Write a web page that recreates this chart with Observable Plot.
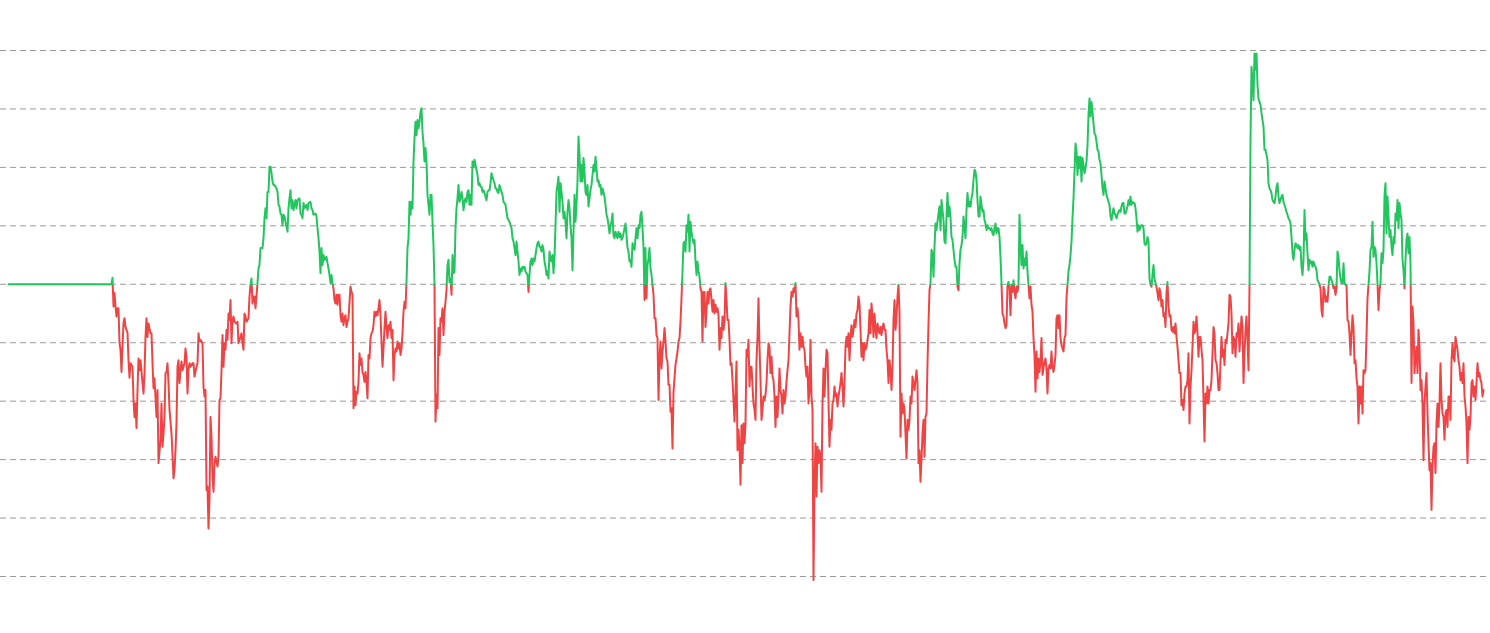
<!DOCTYPE html>
<html><head><meta charset="utf-8">
<script src="https://cdn.jsdelivr.net/npm/d3@7"></script>
<script src="https://cdn.jsdelivr.net/npm/@observablehq/plot@0.6"></script>
<style>html,body{margin:0;padding:0;background:#fff;overflow:hidden}#chart svg{display:block}</style>
</head><body><div id="chart"></div>
<script>
// Gridline values (labels are not shown in the reference)
const gridValues = [40, 30, 20, 10, 0, -10, -20, -30, -40, -50];
const baseline = 0;

// [day, value] readings
const flatStart = [[0,0],[103,0]];
const partA = [[104,1.1],[105,-3.8],[106,-1.5],[107,-3.8],[108,-5.5],[109,-4.1],[110,-4.1],[111,-10.0],[112,-11.2],[113,-15.0],[114,-10.7],[115,-6.6],[116,-5.8],[117,-7.3],[119,-8.3],[120,-13.0],[121,-16.0],[122,-13.5],[124,-14.1],[125,-19.8],[126,-22.7],[127,-20.4],[128,-24.6],[129,-18.1],[130,-12.7],[131,-14.7],[132,-13.0],[134,-16.9],[135,-18.7],[136,-15.2],[137,-9.0],[138,-5.8],[139,-9.0],[140,-6.7],[142,-8.4],[143,-8.4],[144,-13.5],[145,-17.8],[146,-16.1],[148,-22.7],[149,-18.1],[150,-30.6],[152,-26.6],[153,-20.4],[154,-27.8],[155,-25.5],[156,-22.7],[157,-15.2],[158,-15.0],[159,-13.5],[160,-16.9],[161,-21.5],[163,-25.5],[164,-29.2],[165,-33.2],[166,-31.8],[167,-28.4],[168,-23.8],[169,-14.1],[170,-13.0],[171,-16.9],[172,-14.7],[173,-13.2],[174,-14.7],[176,-13.5],[177,-11.0],[178,-12.4],[179,-18.7],[180,-14.7],[181,-13.5],[182,-14.1],[184,-13.5],[185,-13.5],[186,-15.8],[188,-14.1],[189,-13.5],[190,-8.4],[191,-9.8],[192,-9.5],[194,-10.1],[195,-17.5],[196,-19.2],[197,-18.1],[198,-35.2],[199,-34.6],[200,-41.8],[201,-36.9],[202,-22.7],[203,-26.1],[204,-32.9],[205,-35.5],[206,-30.6],[207,-29.5],[209,-31.2],[210,-29.5],[211,-19.8],[212,-19.5],[213,-14.7],[214,-8.7],[215,-14.1],[216,-10.1],[217,-11.2],[218,-7.8],[219,-9.5],[220,-5.0],[221,-6.1],[222,-2.7],[223,-10.1],[224,-6.1],[225,-5.5],[226,-6.4],[228,-6.7],[229,-6.4],[230,-10.1],[232,-9.0],[233,-8.4],[234,-10.1],[235,-11.2],[236,-5.0],[237,-5.5],[238,-6.4],[240,-5.8],[241,-2.1],[242,-0.1],[243,1.0],[244,-3.3],[245,-2.1],[246,-2.1]];
const partB = [[247,-4.1],[249,0.2],[250,2.7],[251,3.3],[252,6.2],[254,6.2],[255,7.9],[256,11.3],[257,13.0],[258,11.3],[259,15.8],[260,15.8],[261,20.1],[262,20.1],[263,19.0],[264,17.6],[265,17.0],[266,17.0],[268,16.4],[269,15.8],[270,13.6],[271,13.3],[272,12.1],[273,11.9],[274,10.1],[275,11.9],[276,11.6],[277,10.7],[278,9.9],[279,9.0],[280,13.0],[281,14.7],[282,16.1],[283,13.0],[284,14.4],[285,12.7],[286,13.6],[287,14.4],[288,13.0],[289,14.4],[291,14.7],[292,12.1],[293,11.9],[294,11.3],[295,13.9],[296,13.0],[298,13.6],[299,12.7],[300,13.9],[302,14.1],[303,13.0],[304,12.7],[305,11.9],[307,12.1],[308,11.6],[309,9.6],[310,7.9],[311,5.6],[312,1.9],[313,6.2],[314,3.3],[315,5.0],[316,4.2],[317,4.4],[318,4.7],[319,3.6],[320,2.7],[321,1.6],[322,0.2],[323,1.6],[324,0.2],[325,-0.7],[326,-2.7],[327,-3.3],[328,-1.8],[329,-3.5],[330,-1.8],[331,-1.8],[332,-5.3],[333,-6.4],[334,-5.0],[335,-7.0],[336,-5.8],[337,-5.3],[338,-7.3],[339,-6.4],[340,-5.8],[342,-0.4],[343,-1.3],[344,-1.8],[345,-21.2],[346,-17.5],[347,-20.7],[348,-18.4],[349,-18.7],[350,-16.7],[351,-11.8],[352,-13.8],[353,-12.7],[354,-15.0],[355,-15.5],[356,-16.7],[357,-15.0],[358,-16.7],[359,-19.5],[360,-12.1],[361,-12.7],[362,-9.2],[363,-8.4],[364,-8.1],[365,-7.0],[366,-4.7],[367,-5.5],[368,-4.7],[369,-5.3],[370,-4.1],[371,-2.7],[372,-5.3],[373,-9.8],[374,-14.1],[375,-11.0],[376,-7.5],[377,-4.7],[378,-7.5],[379,-9.2],[380,-7.0],[381,-7.8],[382,-6.4],[383,-9.2],[384,-7.8],[385,-16.4],[386,-12.1],[387,-11.0],[388,-11.5],[389,-9.8],[390,-11.0],[391,-10.1],[392,-12.1],[393,-11.0],[394,-8.4],[395,-4.7],[396,-3.0]];
const partC = [[397,-4.1],[398,0.4],[399,6.2],[400,7.9],[401,14.1],[402,11.9],[403,14.1],[404,13.0],[405,21.0],[406,25.0],[407,27.8],[408,25.5],[409,28.1],[410,26.7],[411,27.8],[412,29.5],[413,30.1],[414,26.1],[415,24.1],[416,21.0],[417,23.3],[418,21.0],[419,15.3],[420,13.6],[421,11.9],[422,15.3],[423,15.3],[424,10.7],[425,6.7],[426,-0.1],[427,-23.5],[428,-18.9],[429,-21.2],[430,-7.5],[431,-12.1],[432,-5.8],[433,-6.4],[434,-4.1],[435,-8.7],[436,-4.7],[437,-3.0],[438,-1.0],[439,3.3],[440,4.2],[441,0.4],[442,1.0],[443,-1.8],[444,5.0],[445,1.9],[446,2.2],[447,9.6],[448,13.0],[449,14.7],[450,17.0],[451,14.1],[452,14.7],[453,15.8],[454,14.7],[455,12.7],[456,14.1],[457,14.7],[458,14.1],[459,15.8],[460,16.1],[461,13.6],[462,15.3],[463,13.6],[464,21.0],[465,20.1],[466,21.3],[467,20.4],[468,19.6],[469,18.7],[470,17.0],[471,17.3],[472,16.7],[473,16.7],[474,15.8],[475,16.1],[476,15.6],[477,15.0],[478,14.4],[479,15.8],[480,16.1],[481,16.1],[482,17.3],[483,19.0],[484,18.4],[485,17.8],[486,17.3],[487,16.4],[488,16.4],[489,15.8],[490,15.6],[491,17.0],[492,16.4],[493,15.8],[494,15.3],[495,14.1],[496,13.9],[497,13.6],[498,12.4],[499,11.3],[500,11.0],[501,10.7],[502,10.1],[503,9.6],[504,7.9],[505,7.3],[506,6.2],[507,5.0],[508,7.3],[509,5.6],[510,3.9],[511,1.6],[512,2.7],[513,2.2],[514,3.0],[515,2.7],[516,3.0],[517,2.2],[518,1.9],[519,1.6],[520,-1.3],[521,1.6],[522,3.9],[523,4.4],[524,3.3],[525,4.4],[526,3.9],[527,5.0],[528,6.2],[529,7.0],[530,7.3],[531,6.4],[532,6.4],[533,5.6],[534,6.7],[535,5.9],[536,3.9],[537,3.0],[538,1.6],[539,2.2],[540,1.0],[541,5.6],[542,4.4],[543,3.9],[544,5.0],[545,1.9],[546,4.4]];
const partD = [[548,15.8],[549,17.0],[550,18.4],[551,12.4],[552,17.3],[553,15.8],[554,14.1],[555,11.3],[556,12.4],[557,10.7],[558,7.9],[559,12.4],[560,14.4],[561,13.0],[562,10.1],[563,7.9],[564,2.4],[565,9.0],[566,15.3],[567,10.7],[568,13.6],[569,17.6],[570,25.3],[571,22.1],[572,17.6],[573,20.4],[574,17.6],[575,21.6],[576,19.3],[577,15.8],[578,15.3],[579,17.0],[580,13.3],[581,14.7],[582,16.1],[583,17.0],[584,18.7],[585,20.4],[586,19.3],[587,21.8],[588,19.9],[589,17.6],[590,17.8],[591,16.7],[592,17.0],[593,15.3],[594,16.4],[595,15.8],[596,15.0],[597,13.6],[598,11.9],[599,11.3],[600,10.1],[601,8.7],[602,10.1],[603,10.7],[604,12.1],[605,8.4],[606,7.9],[607,9.0],[608,8.4],[609,7.9],[610,9.0],[611,8.1],[612,8.7],[613,7.6],[614,7.9],[615,8.7],[616,9.6],[617,10.4],[618,8.4],[619,6.2],[620,5.6],[621,3.9],[622,4.2],[623,3.0],[624,7.0],[625,6.4],[626,5.9],[627,7.9],[628,9.6],[629,7.9],[630,10.1],[631,9.6],[632,11.9],[633,12.4],[634,9.6],[635,6.4],[636,-2.7],[637,6.2],[638,-2.4],[639,3.3],[640,4.4],[641,6.2],[642,2.7],[643,1.6],[644,-0.1],[645,-1.8],[646,-5.8],[647,-5.8],[648,-8.7],[649,-9.2],[650,-19.8],[651,-12.7],[652,-9.8],[653,-14.4],[654,-11.5],[655,-9.8],[656,-7.5],[657,-9.8],[658,-12.7],[659,-13.2],[660,-17.2],[661,-17.2],[662,-21.8],[663,-21.2],[664,-28.1],[665,-18.4],[666,-16.1],[667,-13.8],[668,-12.7],[669,-11.5],[670,-9.8],[671,-9.2],[672,-6.4],[673,-2.4],[674,2.2],[675,7.0],[676,7.3],[677,5.6],[678,10.1],[679,9.0],[680,11.9],[681,5.6],[682,10.7],[683,9.0],[684,7.9],[685,7.0],[686,7.6],[687,3.9],[688,1.6],[689,3.9],[690,2.2],[691,1.3],[692,-0.7],[693,-1.3],[694,-9.8],[695,-1.3],[696,-1.3]];
const partE = [[697,-7.3],[698,-4.4],[699,-1.3],[700,-3.3],[701,-1.0],[702,-0.7],[703,-2.7],[704,-4.7],[705,-2.7],[706,-5.0],[707,-3.5],[708,-4.7],[709,-4.1],[710,-5.3],[711,-11.2],[712,-7.5],[713,-9.2],[714,-5.5],[715,-7.8],[716,-6.4],[717,0.2],[718,-2.7],[719,-6.1],[720,-6.1],[721,-9.5],[722,-13.8],[723,-13.5],[724,-16.4],[725,-19.8],[726,-23.5],[727,-18.7],[728,-13.2],[729,-28.4],[730,-24.9],[731,-27.8],[732,-34.3],[733,-24.1],[734,-30.6],[735,-23.8],[736,-27.2],[737,-23.8],[738,-11.2],[739,-12.4],[740,-9.5],[741,-17.5],[742,-14.1],[743,-14.1],[744,-17.5],[745,-20.4],[746,-21.5],[747,-23.2],[748,-13.0],[749,-9.0],[750,-2.4],[751,-10.7],[752,-16.4],[753,-23.2],[754,-21.5],[755,-19.2],[756,-19.8],[757,-18.9],[758,-16.9],[759,-13.0],[760,-10.1],[761,-10.7],[762,-15.2],[763,-12.4],[764,-15.8],[765,-16.4],[766,-19.2],[767,-24.4],[768,-19.2],[769,-22.7],[770,-19.2],[771,-14.4],[772,-18.1],[773,-19.2],[774,-22.1],[775,-18.1],[776,-20.4],[777,-19.2],[778,-16.7],[779,-14.7],[780,-13.0],[781,-8.4],[782,-3.8],[783,-1.3],[784,-2.1],[785,-0.7],[786,-1.3],[787,0.2],[788,-5.5],[789,-4.1],[790,-6.1],[791,-11.2],[792,-8.4],[793,-10.7],[794,-9.0],[795,-10.7],[796,-11.2],[797,-14.1],[798,-15.8],[799,-14.1],[800,-20.4],[801,-18.1],[802,-9.5],[803,-19.2],[804,-21.5],[805,-50.6],[806,-34.1],[807,-27.2],[808,-36.3],[809,-27.8],[810,-30.6],[811,-28.4],[812,-29.5],[813,-35.5],[814,-20.4],[815,-14.4],[816,-19.2],[817,-14.7],[818,-11.2],[819,-11.8],[820,-19.8],[821,-27.8],[822,-23.2],[823,-24.9],[824,-20.4],[825,-19.8],[826,-17.5],[827,-19.2],[828,-18.7],[829,-20.9],[830,-19.2],[831,-18.1],[832,-16.9],[833,-15.2],[834,-17.5],[835,-20.9],[836,-16.9],[837,-10.7],[838,-9.0],[839,-10.7],[840,-8.4],[841,-13.0],[842,-9.0],[843,-7.0],[844,-9.0],[845,-7.8],[846,-6.1]];
const partF = [[847,-7.3],[848,-5.0],[849,-4.4],[850,-2.1],[851,-3.3],[852,-7.8],[853,-12.4],[854,-10.1],[855,-13.0],[856,-10.1],[857,-11.2],[858,-10.7],[859,-9.5],[860,-8.4],[861,-4.4],[862,-8.4],[863,-3.3],[864,-5.5],[865,-9.0],[866,-5.0],[867,-7.8],[868,-9.2],[869,-6.7],[870,-7.8],[871,-8.4],[872,-7.3],[873,-8.7],[874,-7.3],[875,-6.7],[876,-7.8],[877,-7.8],[878,-11.2],[879,-13.0],[880,-16.9],[881,-13.0],[882,-14.7],[883,-18.1],[884,-14.1],[885,-6.1],[886,-2.7],[887,-7.8],[888,-5.5],[889,-2.1],[890,-0.1],[891,-5.0],[892,-26.1],[893,-18.7],[894,-22.1],[895,-20.4],[896,-21.5],[897,-25.5],[898,-29.8],[899,-23.2],[900,-24.9],[901,-23.2],[902,-19.2],[903,-20.4],[904,-15.8],[905,-16.9],[906,-18.1],[907,-16.4],[908,-14.7],[909,-16.9],[910,-30.6],[911,-28.4],[912,-33.8],[913,-30.0],[914,-25.5],[915,-23.2],[916,-29.5],[917,-22.7],[918,-22.1],[919,-13.5],[920,-6.7],[921,-1.0],[922,0.2],[923,5.9],[924,5.3],[925,1.3],[926,6.4],[927,10.4],[928,9.3],[929,10.7],[930,12.1],[931,13.3],[932,9.3],[933,14.4],[934,12.7],[935,11.0],[936,7.3],[937,7.0],[938,11.6],[939,15.6],[940,11.6],[941,13.3],[942,11.6],[943,8.1],[944,7.6],[945,5.9],[946,4.2],[947,3.0],[948,3.0],[949,-0.4],[950,-1.0],[951,3.6],[952,5.9],[953,6.7],[954,8.1],[955,11.6],[956,9.9],[957,7.9],[958,12.7],[959,15.6],[960,13.3],[961,14.1],[962,13.3],[963,14.7],[964,15.6],[965,17.8],[966,19.6],[967,19.3],[968,17.8],[969,14.4],[970,11.6],[971,11.6],[972,15.0],[973,13.6],[974,12.4],[975,12.7],[976,11.0],[977,10.4],[978,9.3],[979,10.1],[980,9.6],[981,9.6],[982,9.3],[983,9.6],[984,8.7],[985,8.4],[986,9.6],[987,10.4],[988,8.7],[989,9.6],[990,9.6],[991,8.1],[992,4.7],[993,0.2],[994,-5.0],[995,-5.5],[996,-6.7]];
const partG = [[997,-7.5],[998,-7.0],[999,-0.1],[1000,0.4],[1001,-0.7],[1002,-5.3],[1003,-0.1],[1004,-1.3],[1005,0.7],[1006,-1.3],[1007,-2.4],[1008,-0.4],[1009,-1.3],[1010,-0.1],[1011,11.9],[1012,6.7],[1013,3.3],[1014,6.7],[1015,2.7],[1016,4.4],[1017,3.3],[1018,5.6],[1019,2.2],[1020,-0.1],[1021,-2.4],[1022,-0.4],[1023,-3.5],[1024,-4.7],[1025,-9.2],[1026,-12.1],[1027,-18.4],[1028,-11.5],[1029,-16.1],[1030,-12.7],[1031,-15.0],[1032,-13.2],[1033,-9.2],[1034,-15.5],[1035,-14.4],[1036,-13.2],[1037,-12.7],[1038,-14.4],[1039,-18.7],[1040,-14.4],[1041,-13.8],[1042,-14.4],[1043,-11.5],[1044,-14.1],[1045,-15.0],[1046,-13.8],[1047,-12.1],[1048,-5.8],[1049,-5.3],[1050,-7.5],[1051,-5.3],[1052,-9.2],[1053,-10.4],[1054,-11.0],[1055,-11.5],[1056,-9.2],[1057,-8.7],[1058,-2.4],[1059,-0.1],[1060,2.2],[1061,3.3],[1062,5.0],[1063,7.3],[1064,11.3],[1065,14.7],[1066,19.3],[1067,24.1],[1068,22.7],[1069,18.7],[1070,21.8],[1071,19.9],[1072,21.8],[1073,17.6],[1074,21.6],[1075,20.4],[1076,19.0],[1077,19.9],[1078,21.0],[1079,23.8],[1080,29.0],[1081,31.8],[1082,28.7],[1083,31.2],[1084,29.5],[1085,27.5],[1086,25.8],[1087,25.5],[1088,24.4],[1089,23.0],[1090,22.7],[1091,21.3],[1092,20.7],[1093,18.7],[1094,16.4],[1095,15.3],[1096,17.6],[1097,16.4],[1098,15.3],[1099,14.7],[1100,14.1],[1101,13.6],[1102,11.6],[1103,11.0],[1104,12.1],[1105,13.0],[1106,12.1],[1107,11.9],[1108,11.3],[1109,11.9],[1110,12.4],[1111,12.7],[1112,12.4],[1113,13.3],[1114,13.9],[1115,13.9],[1116,12.1],[1117,12.1],[1118,12.7],[1119,13.3],[1120,14.4],[1121,13.6],[1122,15.0],[1123,13.6],[1124,14.1],[1125,13.9],[1126,13.9],[1127,13.0],[1128,11.3],[1129,9.0],[1130,10.1],[1131,9.3],[1132,9.9],[1133,10.1],[1134,10.1],[1135,9.6],[1136,7.0],[1137,6.7],[1138,7.0],[1139,8.1],[1140,7.3],[1141,1.0],[1142,-0.1],[1143,-0.4],[1144,1.6],[1145,3.3],[1146,1.0]];
const partH = [[1147,0.2],[1148,-0.4],[1149,-1.5],[1150,-2.7],[1151,-0.7],[1152,-1.5],[1153,-3.8],[1154,-2.7],[1155,-5.5],[1156,-5.0],[1157,-7.3],[1158,-1.5],[1159,0.4],[1160,-3.8],[1161,-5.5],[1162,-5.3],[1163,-7.8],[1164,-8.1],[1165,-7.3],[1166,-8.4],[1167,-6.7],[1168,-9.0],[1169,-10.7],[1170,-13.0],[1171,-15.2],[1172,-15.2],[1173,-20.7],[1174,-19.8],[1175,-21.5],[1176,-18.7],[1177,-17.5],[1178,-17.5],[1179,-16.4],[1180,-11.8],[1181,-23.8],[1182,-17.5],[1183,-14.7],[1184,-10.7],[1185,-6.4],[1186,-8.4],[1187,-7.8],[1188,-5.5],[1189,-8.4],[1190,-12.4],[1191,-9.0],[1192,-9.0],[1193,-11.2],[1194,-13.0],[1195,-19.8],[1196,-26.9],[1197,-18.7],[1198,-20.4],[1199,-17.5],[1200,-20.4],[1201,-18.1],[1202,-18.1],[1203,-16.4],[1204,-11.8],[1205,-7.3],[1206,-8.4],[1207,-13.0],[1208,-13.5],[1209,-15.2],[1210,-18.1],[1211,-18.1],[1212,-13.5],[1213,-9.0],[1214,-12.4],[1215,-11.2],[1216,-13.8],[1217,-9.5],[1218,-10.1],[1219,-8.4],[1220,-6.7],[1221,-1.8],[1222,-2.1],[1223,-5.0],[1224,-11.8],[1225,-9.0],[1226,-9.5],[1227,-12.4],[1228,-8.4],[1229,-9.0],[1230,-6.7],[1231,-11.5],[1232,-8.4],[1233,-5.5],[1234,-7.3],[1235,-16.9],[1236,-11.8],[1237,-7.8],[1238,-5.5],[1239,-9.5],[1240,-14.7],[1241,-0.4],[1242,24.7],[1243,37.2],[1244,35.0],[1245,31.5],[1246,39.5],[1247,36.7],[1248,39.5],[1249,34.1],[1250,31.8],[1251,31.2],[1252,30.7],[1253,29.3],[1254,28.1],[1255,27.0],[1256,23.0],[1257,23.0],[1258,22.1],[1259,21.3],[1260,17.3],[1261,16.4],[1262,16.1],[1263,15.6],[1264,14.4],[1265,14.1],[1266,13.9],[1267,15.0],[1268,16.7],[1269,17.3],[1270,15.0],[1271,13.9],[1272,14.4],[1273,15.0],[1274,15.3],[1275,14.1],[1276,13.6],[1277,13.0],[1278,12.4],[1279,11.9],[1280,11.3],[1281,11.0],[1282,10.4],[1283,8.1],[1284,5.3],[1285,4.2],[1286,5.9],[1287,7.0],[1288,6.7],[1289,6.2],[1290,6.7],[1291,5.9],[1292,6.4],[1293,3.0],[1294,1.6],[1295,4.2],[1296,12.7],[1297,7.6]];
const partI = [[1298,8.7],[1299,5.3],[1300,2.4],[1301,4.2],[1302,3.6],[1303,3.9],[1304,3.0],[1305,3.9],[1306,3.3],[1307,3.0],[1308,2.4],[1309,0.7],[1310,0.4],[1311,-0.1],[1312,-0.7],[1313,-4.4],[1314,-5.5],[1315,-0.4],[1316,-1.0],[1317,-3.0],[1318,-2.1],[1319,-3.0],[1320,-0.4],[1321,1.3],[1322,1.3],[1323,0.7],[1324,0.2],[1325,-0.7],[1326,-0.4],[1327,-1.8],[1328,-0.7],[1329,5.6],[1330,4.7],[1331,2.4],[1332,1.0],[1333,0.2],[1334,0.2],[1335,3.6],[1336,0.2],[1337,-0.1],[1338,-0.1],[1339,-6.1],[1340,-6.4],[1341,-8.4],[1342,-12.1],[1343,-8.4],[1344,-5.3],[1345,-7.3],[1346,-13.5],[1347,-13.0],[1348,-16.1],[1349,-17.5],[1350,-23.8],[1351,-17.5],[1352,-20.4],[1353,-17.5],[1354,-22.1],[1355,-14.7],[1356,-15.2],[1357,-14.7],[1358,-9.0],[1359,-2.4],[1360,-0.1],[1361,2.2],[1362,5.9],[1363,6.4],[1364,10.7],[1365,4.7],[1366,6.4],[1367,5.9],[1368,3.6],[1369,0.2],[1370,-4.4],[1371,-1.0],[1372,0.2],[1373,5.3],[1374,3.6],[1375,5.9],[1376,15.0],[1377,17.3],[1378,8.7],[1379,15.0],[1380,11.6],[1381,8.1],[1382,9.3],[1383,6.4],[1384,5.0],[1385,8.1],[1386,7.0],[1387,12.1],[1388,11.0],[1389,14.4],[1390,9.6],[1391,13.9],[1392,12.1],[1393,11.0],[1394,4.2],[1395,2.4],[1396,-0.7],[1397,4.2],[1398,7.6],[1399,8.7],[1400,5.3],[1401,8.1],[1402,3.6],[1403,-16.9],[1404,-3.8],[1405,-6.7],[1406,-15.2],[1407,-12.4],[1408,-10.7],[1409,-15.2],[1410,-7.8],[1411,-10.7],[1412,-18.1],[1413,-16.4],[1414,-20.4],[1415,-30.1],[1416,-20.4],[1417,-17.5],[1418,-15.2],[1419,-22.1],[1420,-27.2],[1421,-31.8],[1422,-30.6],[1423,-38.6],[1424,-31.2],[1425,-27.8],[1426,-27.2],[1427,-32.3],[1428,-23.8],[1429,-20.4],[1430,-24.4],[1431,-20.4],[1432,-13.5],[1433,-19.8],[1434,-22.1],[1435,-22.7],[1436,-26.6],[1437,-22.1],[1438,-21.5],[1439,-24.4],[1440,-19.2],[1441,-19.2],[1442,-23.2],[1443,-13.0],[1444,-10.1],[1445,-12.4],[1446,-13.2],[1447,-9.0],[1448,-10.1],[1449,-11.2],[1450,-13.0],[1451,-14.1],[1452,-16.4],[1453,-15.2],[1454,-16.9],[1455,-13.5],[1456,-19.2],[1457,-20.9],[1458,-23.8],[1459,-30.6],[1460,-22.7],[1461,-24.9],[1462,-22.7],[1463,-16.9],[1464,-16.4],[1465,-19.2],[1466,-17.5],[1467,-19.8],[1468,-16.9],[1469,-13.5],[1470,-15.8],[1471,-15.2],[1472,-16.4],[1473,-16.9],[1474,-19.2],[1475,-18.1]];

const upColor = "#22c55e";
const downColor = "#ef4444";

const data = [flatStart, partA, partB, partC, partD, partE, partF, partG, partH, partI]
  .flat()
  .map(([day, value]) => ({day, value}));

const W = 1490, H = 633;
const plot = Plot.plot({
  width: W,
  height: H,
  marginLeft: 8,
  marginRight: 7,
  marginTop: 50,
  marginBottom: 57,
  x: {domain: [0, 1475], axis: null},
  y: {domain: [-50, 40], axis: null},
  style: {background: "#ffffff", overflow: "visible"},
  marks: [
    Plot.ruleY(gridValues, {stroke: "#9a9a9a", strokeWidth: 1, strokeDasharray: "6,4", insetLeft: -8, insetRight: -4}),
    Plot.line(data, {x: "day", y: "value", stroke: "url(#updown)", strokeWidth: 2, strokeLinejoin: "round", strokeLinecap: "round"})
  ]
});

// Split colour at the baseline: green above, red below
const yb = plot.scale("y").apply(baseline) + 1;
const ns = "http://www.w3.org/2000/svg";
const defs = document.createElementNS(ns, "defs");
const grad = document.createElementNS(ns, "linearGradient");
grad.setAttribute("id", "updown");
grad.setAttribute("gradientUnits", "userSpaceOnUse");
grad.setAttribute("x1", "0"); grad.setAttribute("x2", "0");
grad.setAttribute("y1", "0"); grad.setAttribute("y2", String(H));
for (const [off, col] of [[yb / H, upColor], [yb / H, downColor]]) {
  const s = document.createElementNS(ns, "stop");
  s.setAttribute("offset", String(off));
  s.setAttribute("stop-color", col);
  grad.appendChild(s);
}
defs.appendChild(grad);
plot.insertBefore(defs, plot.firstChild);

document.getElementById("chart").appendChild(plot);
</script>
</body></html>
